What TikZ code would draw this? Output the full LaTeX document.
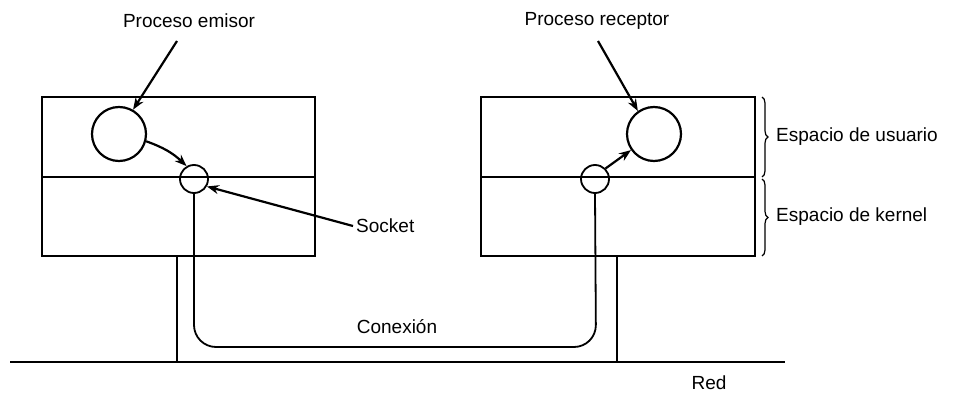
\documentclass[tikz,border=0pt]{standalone}
\usepackage{fontspec}
\setmainfont{Liberation Sans}
\usetikzlibrary{arrows.meta,decorations.pathreplacing}
\begin{document}
\begin{tikzpicture}[x=1pt,y=-1pt,
  box/.style={draw,line width=2.4pt},
  sep/.style={line width=1.5pt},
  proc/.style={circle,draw,line width=2.2pt,minimum size=54pt,inner sep=0pt},
  sock/.style={circle,draw,line width=1.8pt,minimum size=28pt,inner sep=0pt},
  arr/.style={line width=2.2pt,-{Stealth[length=12pt,width=9pt]}},
  wire/.style={line width=1.8pt},
  lbl/.style={font=\fontsize{19}{22}\selectfont,inner sep=0pt},
  brc/.style={decorate,decoration={brace,amplitude=6pt},line width=1.2pt}]
\useasboundingbox (0,0) rectangle (957,393);
% boxes
\draw[box] (42,97) rectangle (315,256);
\draw[sep] (42,177) -- (315,177);
\draw[box] (481,97) rectangle (755,256);
\draw[sep] (481,177) -- (755,177);
% network
\coordinate (netL) at (10,362);
\coordinate (netR) at (785,362);
\draw[line width=2.4pt] (netL) -- (netR);
\draw[line width=1.5pt] (177,256) -- (177,362);
\draw[line width=1.5pt] (617,256) -- (617,362);
% circles
\node[proc] (pe) at (119,134) {};
\node[sock] (se) at (194,179) {};
\node[proc] (pr) at (654,134) {};
\node[sock] (sr) at (595,179) {};
% connection
\draw[wire,rounded corners=22pt] (se.south) -- (194,347) -- (596,347) -- (sr.south);
% labels
\node[lbl] (tpe) at (189,21) {Proceso emisor};
\node[lbl] (tpr) at (597,21) {Proceso receptor};
\node[lbl,anchor=west] (tso) at (356,226) {Socket};
\node[lbl] (tcon) at (397,327) {Conexión};
\node[lbl] (tred) at (709,383) {Red};
\node[lbl,anchor=west] (tus) at (776,137) {Espacio de usuario};
\node[lbl,anchor=west] (tke) at (776,217) {Espacio de kernel};
% arrows
\coordinate (a1) at (177,41);
\coordinate (a2) at (598,41);
\draw[arr] (a1) -- (pe.60);
\draw[arr] (a2) -- (pr.125);
\draw[arr] ([xshift=-3pt]tso.west) -- (se.-30);
\draw[arr] (pe.-15) to[bend left=12] (se.120);
\draw[arr] (sr.45) -- (pr.-145);
% braces
\draw[brc] (762,97) -- (762,177);
\draw[brc] (762,179) -- (762,256);
\end{tikzpicture}
\end{document}
